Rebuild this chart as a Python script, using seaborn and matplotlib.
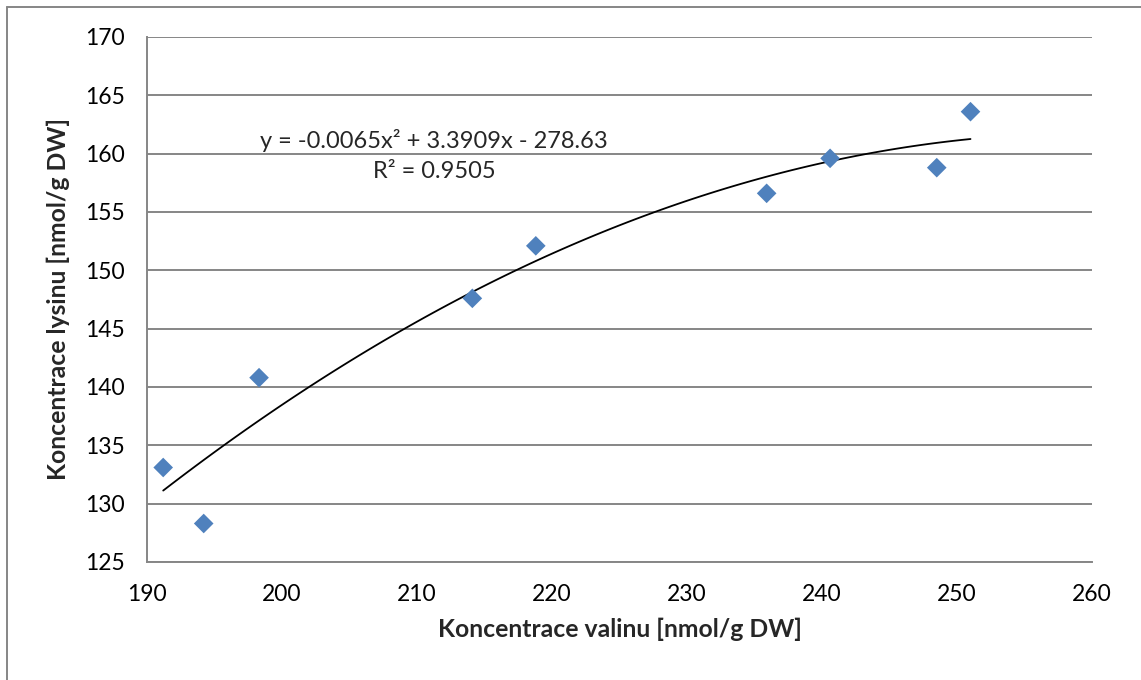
import numpy as np
import pandas as pd
import seaborn as sns
import matplotlib
matplotlib.use("Agg")
import matplotlib.pyplot as plt
from matplotlib.lines import Line2D

# Measured concentrations (nmol/g DW)
valine = [191.2, 194.2, 198.3, 214.1, 218.8, 235.9, 240.6, 248.5, 251.0]
lysine = [133.1, 128.3, 140.8, 147.6, 152.1, 156.6, 159.6, 158.8, 163.6]

x_ticks = [190, 200, 210, 220, 230, 240, 250, 260]
y_ticks = [125, 130, 135, 140, 145, 150, 155, 160, 165, 170]

equation = "y = -0.0065x² + 3.3909x - 278.63"
r_squared = "R² = 0.9505"

df = pd.DataFrame({"valin": valine, "lysin": lysine})

sns.set_theme(style="white")
plt.rcParams["font.family"] = ["Lato", "DejaVu Sans"]

W, H = 1141, 680
fig = plt.figure(figsize=(W / 100, H / 100), dpi=100)
ax = fig.add_axes([147 / W, 1 - 562 / H, (1092 - 147) / W, (562 - 37) / H])

grey = "#868686"

# Horizontal gridlines behind the data
ax.set_axisbelow(True)
ax.yaxis.grid(True, color=grey, linewidth=1.4)
ax.xaxis.grid(False)

# Second-order polynomial trendline
sns.regplot(data=df, x="valin", y="lysin", order=2, ci=None, scatter=False,
            truncate=True, ax=ax, line_kws={"color": "black", "linewidth": 1.3})

# Data points
sns.scatterplot(data=df, x="valin", y="lysin", marker="D", s=100,
                color="#4F81BD", edgecolor="none", ax=ax, zorder=3)

ax.set_xlim(190, 260)
ax.set_ylim(125, 170)
ax.set_xticks(x_ticks)
ax.set_yticks(y_ticks)
ax.tick_params(axis="both", which="major", labelsize=16.5, colors=grey,
               labelcolor="black", length=8, width=1.4, direction="out")
ax.tick_params(axis="x", pad=8)
ax.tick_params(axis="y", pad=8)

for side in ["top", "right"]:
    ax.spines[side].set_visible(False)
for side in ["left", "bottom"]:
    ax.spines[side].set_color(grey)
    ax.spines[side].set_linewidth(1.4)

ax.set_xlabel("Koncentrace valinu [nmol/g DW]", fontsize=17.8,
              fontweight="bold", labelpad=9)
ax.set_ylabel("Koncentrace lysinu [nmol/g DW]", fontsize=17.8,
              fontweight="bold", labelpad=11)

# Trendline equation and coefficient of determination
ax.text(434 / W, 1 - 141 / H, equation, transform=fig.transFigure,
        ha="center", va="center", fontsize=17)
ax.text(434 / W, 1 - 172 / H, r_squared, transform=fig.transFigure,
        ha="center", va="center", fontsize=17)

# Chart-area frame
fig.add_artist(Line2D([7 / W, 7 / W], [1 - 7 / H, 0], transform=fig.transFigure,
                      color=grey, linewidth=1.4))
fig.add_artist(Line2D([7 / W, 1], [1 - 7 / H, 1 - 7 / H], transform=fig.transFigure,
                      color=grey, linewidth=1.4))

fig.savefig("out.png", dpi=100, facecolor="white")
